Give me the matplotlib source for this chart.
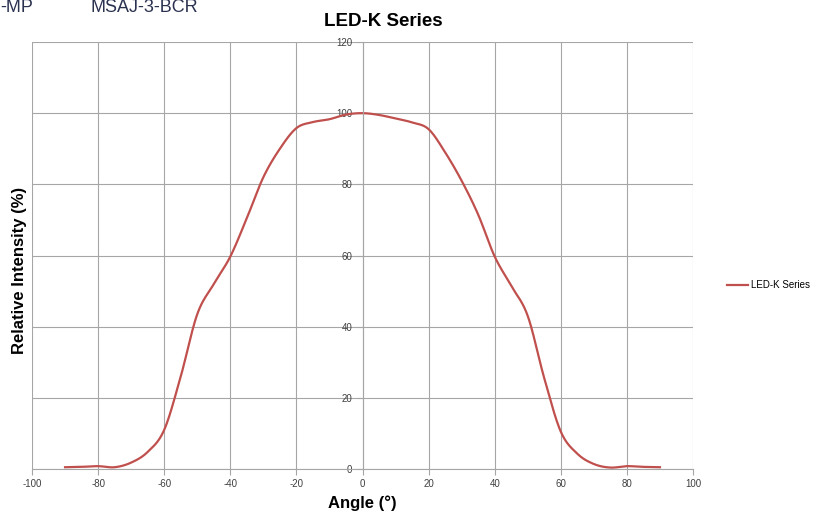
import numpy as np
import matplotlib.pyplot as plt

angles = [-90, -85, -80, -75, -70, -65, -60, -55, -50, -45, -40, -35, -30, -25, -20, -15, -10, -5,
          0, 5, 10, 15, 20, 25, 30, 35, 40, 45, 50, 55, 60, 65, 70, 75, 80, 85, 90]
intensity = [0.5, 0.6, 0.8, 0.5, 1.8, 4.8, 11, 26, 43.5, 52, 59.7, 70.5, 82, 90, 95.8, 97.5, 98.3, 99.6,
             100, 99.5, 98.5, 97.4, 95.5, 89, 81, 71.5, 59.7, 51.5, 43, 25.5, 10.5, 4.3, 1.4, 0.4, 0.8, 0.6, 0.5]
series_name = 'LED-K Series'


def smooth(xs, ys, n=20):
    # Excel-like smoothed line (Catmull-Rom through the points)
    p = np.column_stack([xs, ys]).astype(float)
    p = np.vstack([p[0], p, p[-1]])
    out = []
    t = np.linspace(0, 1, n, endpoint=False)[:, None]
    for i in range(1, len(p) - 2):
        p0, p1, p2, p3 = p[i - 1], p[i], p[i + 1], p[i + 2]
        seg = 0.5 * ((2 * p1) + (-p0 + p2) * t + (2 * p0 - 5 * p1 + 4 * p2 - p3) * t ** 2
                     + (-p0 + 3 * p1 - 3 * p2 + p3) * t ** 3)
        out.append(seg)
    out.append(p[-2][None, :])
    out = np.vstack(out)
    return out[:, 0], out[:, 1]


plt.rcParams['font.family'] = ['Liberation Sans', 'DejaVu Sans']
plt.rcParams['axes.unicode_minus'] = False

fig = plt.figure(figsize=(8.16, 5.13), dpi=100)
ax = fig.add_axes([32 / 816, 44 / 513, 661 / 816, 427 / 513])

sx, sy = smooth(angles, intensity)
line, = ax.plot(sx, sy, color='#C0504D', lw=1.6, label=series_name)

ax.set_xlim(-100, 100)
ax.set_ylim(0, 120)
ax.set_xticks(range(-100, 101, 20))
ax.set_yticks(range(0, 121, 20))
ax.grid(True, color='#a6a6a6', lw=0.8)
ax.set_axisbelow(True)

for s in ['top', 'right']:
    ax.spines[s].set_visible(False)
ax.spines['left'].set_position(('data', 0))
ax.spines['left'].set_color('#a6a6a6')
ax.spines['bottom'].set_color('#a6a6a6')
ax.tick_params(colors='#a6a6a6', labelcolor='#404040', labelsize=7, length=4, width=0.8)

ax.set_xlabel('Angle (°)', fontsize=12, fontweight='bold', labelpad=4)
fig.text(20 / 816, 1 - 270 / 513, 'Relative Intensity (%)', rotation=90, fontsize=12,
         fontweight='bold', ha='center', va='center')
fig.text(383 / 816, 1 - 21 / 513, series_name, fontsize=13.5, fontweight='bold',
         ha='center', va='center')

fig.text(0, 1 - 8 / 513, '-MP', fontsize=13, color='#2b3250', ha='left', va='center')
fig.text(90 / 816, 1 - 8 / 513, 'MSAJ-3-BCR', fontsize=13, color='#2b3250', ha='left', va='center')

fig.legend(handles=[line], loc='center left', bbox_to_anchor=(718 / 816, 1 - 285 / 513),
           frameon=False, fontsize=7, handlelength=2.2, handletextpad=0.3)

fig.savefig('out.png', dpi=100)
